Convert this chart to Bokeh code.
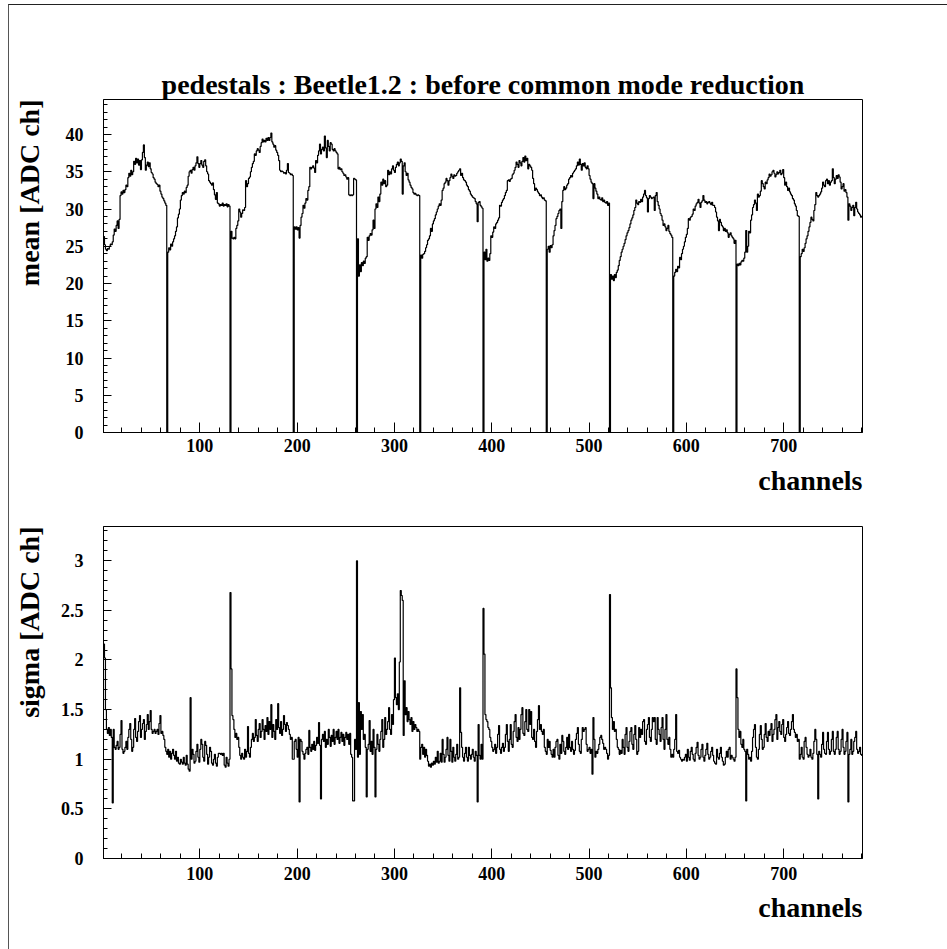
from bokeh.plotting import figure
from bokeh.layouts import column
from bokeh.models import Range1d, SingleIntervalTicker, Title, LinearAxis, FixedTicker
from bokeh.embed import file_html
from bokeh.resources import INLINE

# ---------------- data ----------------
first_channel = 1
title_text = "pedestals : Beetle1.2 : before common mode reduction"
x_title = "channels"
mean_title = "mean [ADC ch]"
sigma_title = "sigma [ADC ch]"

mean_01 = [26.3, 25.2, 24.6, 24.4, 24.7, 24.6, 25.0, 25.3, 25.2, 25.6,
           26.5, 27.3, 27.0, 27.8, 28.4, 27.4, 28.6, 31.8, 32.3, 32.0,
           32.5, 32.2, 32.6, 33.2, 33.0, 34.2, 34.8, 34.4, 35.2, 34.6,
           35.0, 36.4, 36.0, 36.8, 36.2, 36.7, 35.9, 36.5, 35.3, 36.6,
           37.6, 38.6, 36.9, 35.2, 35.9, 36.3, 35.7, 36.2, 35.4, 34.9,
           34.7, 34.2, 34.0, 33.6, 33.4, 33.3, 33.0, 33.2, 32.4, 32.0,
           31.6, 31.4, 31.1, 30.8, 30.5]
mean_02 = [0.0, 24.2, 24.8, 24.5, 25.3, 25.0, 25.6, 26.0, 26.4, 27.0,
           27.6, 28.8, 29.3, 30.0, 31.2, 31.8, 32.2, 32.0, 32.4, 32.2,
           32.9, 33.2, 34.4, 35.0, 35.2, 34.8, 35.3, 35.6, 35.2, 35.8,
           36.2, 37.0, 36.1, 35.6, 36.1, 36.5, 35.9, 35.6, 36.4, 36.6,
           35.8, 35.0, 34.7, 33.8, 33.6, 33.4, 33.2, 33.5, 32.6, 31.9,
           31.3, 32.2, 30.8, 30.7, 30.4, 30.6, 30.5, 30.8, 30.4, 30.6,
           30.5, 30.7, 30.3, 30.6, 30.4]
mean_03 = [0.0, 27.0, 26.1, 26.0, 26.2, 26.0, 27.4, 27.8, 28.4, 30.0,
           29.6, 28.9, 29.4, 29.9, 29.8, 30.2, 33.8, 33.0, 33.4, 34.1,
           34.3, 35.0, 35.6, 36.1, 36.4, 37.4, 37.2, 37.8, 38.1, 37.9,
           37.6, 38.4, 38.9, 39.4, 39.0, 39.2, 39.0, 39.5, 39.2, 39.6,
           39.2, 39.6, 40.2, 39.0, 38.7, 38.3, 38.5, 37.9, 37.6, 37.2,
           36.5, 35.2, 35.0, 35.1, 35.0, 34.8, 34.9, 34.7, 35.2, 36.1,
           34.9, 34.8, 34.6, 34.7, 34.5]
mean_04 = [0.0, 27.6, 27.3, 27.6, 27.2, 27.5, 26.1, 27.8, 28.9, 29.4,
           30.5, 30.1, 30.8, 31.4, 31.2, 32.5, 33.0, 35.6, 35.4, 35.6,
           35.8, 35.5, 34.9, 36.5, 36.2, 37.2, 37.8, 38.7, 37.4, 38.0,
           38.3, 37.8, 39.8, 38.2, 36.9, 39.2, 38.4, 37.8, 38.9, 38.7,
           38.0, 37.8, 38.1, 37.8, 37.6, 37.4, 35.4, 35.6, 35.3, 35.4,
           35.0, 34.8, 34.5, 34.6, 34.3, 34.0, 34.2, 31.9, 31.8, 31.9,
           31.8, 31.9, 34.1, 34.0, 33.9]
mean_05 = [0.0, 26.0, 21.0, 22.5, 21.6, 22.8, 22.4, 23.0, 22.7, 23.4,
           23.6, 26.2, 25.8, 26.4, 26.7, 26.5, 27.2, 28.5, 27.4, 30.0,
           30.7, 30.2, 31.6, 31.0, 32.0, 33.6, 33.2, 34.0, 33.4, 33.8,
           33.0, 33.2, 35.2, 34.6, 35.0, 34.7, 35.4, 35.8, 35.2, 34.9,
           35.6, 36.0, 36.3, 35.8, 36.2, 36.7, 36.4, 32.0, 35.8, 36.2,
           35.0, 34.5, 34.8, 33.9, 33.6, 33.2, 32.9, 32.7, 32.2, 32.0,
           32.1, 31.9, 31.8, 31.9, 31.8]
mean_06 = [0.0, 23.8, 23.4, 23.9, 24.0, 24.3, 24.8, 25.2, 25.8, 26.0,
           26.4, 27.4, 27.0, 28.0, 28.4, 28.7, 29.2, 29.6, 30.0, 30.4,
           30.7, 30.5, 31.2, 32.5, 32.8, 33.4, 33.6, 34.1, 33.8, 33.2,
           33.8, 34.2, 34.7, 34.4, 34.1, 34.6, 34.4, 34.5, 34.8, 35.0,
           35.2, 35.4, 34.5, 34.8, 34.2, 33.9, 33.8, 33.6, 33.2, 33.0,
           32.6, 32.4, 32.0, 31.8, 31.6, 31.5, 31.4, 31.0, 30.7, 28.3,
           30.9, 31.0, 30.5, 30.3, 30.1]
mean_07 = [0.0, 24.2, 23.2, 24.6, 23.0, 23.4, 23.1, 24.0, 26.4, 26.2,
           26.9, 27.6, 27.4, 28.0, 28.2, 28.5, 28.8, 30.5, 30.4, 30.9,
           31.2, 31.4, 31.8, 32.2, 32.5, 33.8, 33.9, 33.7, 34.0, 34.1,
           34.6, 34.8, 35.2, 35.6, 36.3, 36.0, 35.6, 36.5, 36.2, 35.8,
           36.4, 36.9, 36.3, 37.1, 36.5, 36.8, 35.4, 36.0, 35.8, 35.6,
           35.2, 34.1, 33.4, 32.5, 32.8, 32.6, 32.3, 32.1, 31.8, 31.9,
           31.6, 31.4, 31.5, 31.2, 31.1]
mean_08 = [0.0, 24.6, 25.0, 24.2, 25.1, 24.8, 25.2, 26.4, 27.1, 27.8,
           28.7, 29.0, 29.4, 29.8, 30.0, 27.4, 31.0, 32.5, 33.0, 32.6,
           32.8, 33.2, 33.4, 34.0, 34.2, 34.5, 34.3, 34.8, 35.0, 35.2,
           35.4, 35.8, 36.3, 35.9, 36.7, 36.0, 35.2, 36.1, 35.8, 36.2,
           35.6, 35.4, 35.8, 35.4, 34.5, 34.0, 33.6, 33.4, 31.4, 33.4,
           32.8, 32.4, 32.0, 31.4, 31.6, 31.3, 31.2, 31.5, 31.0, 31.2,
           30.9, 30.8, 31.0, 30.5, 30.8]
mean_09 = [0.0, 21.2, 20.6, 21.0, 20.4, 21.2, 20.8, 21.5, 21.8, 22.4,
           23.1, 23.6, 24.2, 24.6, 25.0, 25.4, 25.9, 26.4, 26.8, 27.1,
           27.5, 28.0, 28.5, 28.8, 29.2, 29.8, 30.2, 31.2, 30.8, 30.6,
           31.0, 30.9, 31.3, 31.0, 31.6, 32.0, 32.5, 31.8, 31.5, 29.6,
           31.4, 31.8, 31.6, 31.4, 31.5, 31.6, 29.8, 31.8, 32.2, 31.0,
           30.5, 30.0, 29.4, 29.1, 28.5, 27.8, 28.0, 27.6, 27.1, 27.4,
           27.8, 27.0, 26.7, 26.5, 26.2]
mean_10 = [0.0, 21.0, 21.5, 21.9, 21.6, 22.3, 22.1, 23.5, 23.2, 24.0,
           24.6, 25.0, 25.6, 26.2, 26.6, 27.4, 28.7, 28.5, 28.9, 29.0,
           29.3, 30.0, 29.8, 30.4, 30.7, 30.9, 31.3, 30.8, 30.2, 30.9,
           31.1, 31.8, 31.2, 30.9, 31.0, 30.7, 30.9, 31.0, 30.8, 30.6,
           30.9, 30.5, 30.5, 30.2, 29.6, 28.9, 28.4, 27.1, 28.6, 28.2,
           27.8, 27.6, 27.1, 27.4, 27.0, 27.2, 26.8, 26.2, 26.6, 26.8,
           26.4, 26.2, 26.0, 25.4, 25.8]
mean_11 = [0.0, 22.6, 22.4, 22.7, 22.5, 22.9, 23.1, 23.0, 23.4, 24.2,
           27.1, 24.2, 25.0, 27.0, 26.8, 28.5, 29.2, 30.2, 30.6, 31.2,
           30.8, 29.8, 32.0, 31.6, 31.8, 32.4, 33.8, 33.4, 33.0, 32.7,
           33.6, 33.4, 33.9, 34.2, 34.7, 34.4, 34.6, 35.0, 35.2, 34.8,
           34.3, 34.6, 35.0, 34.7, 34.9, 35.2, 34.6, 34.8, 35.3, 34.2,
           33.2, 33.6, 33.0, 32.5, 32.8, 32.3, 32.0, 31.8, 31.4, 31.2,
           30.7, 30.4, 29.8, 29.1, 29.0]
mean_12 = [0.0, 23.6, 24.0, 24.6, 24.3, 24.8, 25.4, 26.0, 26.4, 27.0,
           27.6, 28.2, 28.9, 28.6, 28.4, 29.8, 30.6, 32.2, 31.8, 31.6,
           31.8, 32.0, 32.3, 32.8, 33.6, 33.2, 33.0, 33.8, 34.0, 33.4,
           33.8, 33.2, 33.6, 33.8, 35.4, 34.2, 33.4, 34.0, 34.5, 34.1,
           34.6, 34.3, 33.6, 32.7, 33.0, 33.4, 32.4, 32.6, 32.2, 31.6,
           28.5, 30.7, 30.4, 29.8, 30.2, 30.5, 29.1, 30.2, 30.9, 30.0,
           29.6, 29.4, 29.2, 28.9, 29.0]

sigma_01 = [2.16, 2.02, 1.50, 1.30, 1.26, 1.32, 1.24, 1.30, 1.22, 0.56,
            1.30, 1.12, 1.10, 1.14, 1.18, 1.10, 1.12, 1.25, 1.39, 1.10,
            1.06, 1.08, 1.12, 1.18, 1.10, 1.22, 1.30, 1.36, 1.20, 1.08,
            1.12, 1.30, 1.41, 1.22, 1.18, 1.28, 1.38, 1.44, 1.22, 1.30,
            1.36, 1.40, 1.20, 1.28, 1.35, 1.45, 1.30, 1.38, 1.49, 1.30,
            1.26, 1.28, 1.30, 1.26, 1.28, 1.30, 1.25, 1.36, 1.44, 1.26,
            1.28, 1.24, 1.20, 1.12, 1.08]
sigma_02 = [1.05, 1.10, 1.02, 1.08, 1.00, 1.06, 1.10, 1.04, 1.00, 1.08,
            0.98, 1.02, 0.96, 0.95, 1.00, 0.97, 0.95, 1.02, 0.96, 0.94,
            1.04, 0.95, 0.90, 0.88, 1.62, 1.00, 1.10, 1.05, 0.96, 0.98,
            1.08, 1.15, 1.02, 0.97, 1.10, 1.20, 1.15, 1.02, 0.98, 1.18,
            1.14, 1.05, 0.95, 1.02, 1.12, 1.08, 0.96, 0.94, 1.00, 1.05,
            0.96, 0.93, 1.02, 1.06, 1.06, 1.05, 1.06, 1.04, 1.06, 0.94,
            0.92, 1.02, 0.96, 0.93, 1.00]
sigma_03 = [2.68, 1.91, 1.44, 1.40, 1.30, 1.22, 1.26, 1.20, 1.22, 1.12,
            1.04, 1.00, 1.06, 1.02, 1.00, 1.10, 1.02, 1.08, 1.33, 1.06,
            1.02, 1.12, 1.20, 1.26, 1.18, 1.22, 1.40, 1.24, 1.18, 1.30,
            1.36, 1.22, 1.28, 1.40, 1.30, 1.20, 1.34, 1.28, 1.42, 1.25,
            1.38, 1.30, 1.55, 1.22, 1.35, 1.28, 1.20, 1.40, 1.30, 1.56,
            1.32, 1.26, 1.38, 1.24, 1.30, 1.44, 1.35, 1.28, 1.37, 1.34,
            1.30, 1.25, 1.20, 1.22, 1.00]
sigma_04 = [1.00, 1.18, 1.20, 1.10, 1.02, 1.22, 0.57, 1.20, 1.18, 1.08,
            1.05, 1.00, 1.06, 1.10, 1.12, 1.05, 1.29, 1.12, 1.08, 1.15,
            1.10, 1.18, 1.09, 1.14, 1.22, 1.16, 1.37, 1.14, 0.60, 1.20,
            1.25, 1.18, 1.28, 1.12, 1.20, 1.15, 1.30, 1.22, 1.13, 1.24,
            1.18, 1.30, 1.15, 1.22, 1.28, 1.20, 1.30, 1.16, 1.22, 1.27,
            1.18, 1.25, 1.14, 1.22, 1.27, 1.20, 1.25, 1.15, 1.26, 1.05,
            1.02, 0.58, 0.58, 1.20, 1.10]
sigma_05 = [3.00, 1.02, 1.57, 1.05, 1.48, 1.30, 1.45, 1.20, 1.25, 1.12,
            0.62, 1.10, 1.15, 1.39, 1.08, 1.18, 1.05, 1.30, 1.12, 0.62,
            1.10, 1.25, 1.15, 1.08, 1.20, 1.28, 1.40, 1.12, 1.20, 1.42,
            1.25, 1.30, 1.38, 1.52, 1.30, 1.25, 1.45, 1.35, 1.60, 2.02,
            1.62, 1.55, 1.66, 1.50, 1.98, 2.70, 2.65, 2.60, 1.24, 1.79,
            1.45, 1.52, 1.38, 1.48, 1.40, 1.35, 1.42, 1.28, 1.38, 1.30,
            1.35, 1.32, 1.28, 1.30, 1.28]
sigma_06 = [1.00, 1.12, 1.15, 1.05, 1.12, 1.02, 1.10, 1.04, 0.98, 0.93,
            0.95, 0.92, 0.96, 0.94, 0.98, 0.95, 1.02, 0.97, 1.08, 0.96,
            0.98, 1.06, 0.97, 1.20, 1.05, 0.97, 1.02, 1.10, 1.22, 1.04,
            0.98, 1.20, 1.08, 0.97, 1.12, 1.02, 0.98, 1.05, 1.15, 1.00,
            1.02, 1.72, 1.27, 1.12, 1.02, 0.98, 1.06, 1.12, 1.02, 0.98,
            1.12, 1.04, 1.00, 1.05, 1.10, 1.02, 0.98, 1.08, 1.04, 0.57,
            1.35, 1.04, 1.00, 1.15, 1.00]
sigma_07 = [2.52, 2.06, 1.45, 1.40, 1.38, 1.32, 1.30, 1.22, 1.18, 1.12,
            1.08, 1.10, 1.15, 1.06, 1.12, 1.25, 1.34, 1.10, 1.06, 1.12,
            1.16, 1.08, 1.12, 1.25, 1.35, 1.18, 1.08, 1.20, 1.35, 1.15,
            1.12, 1.28, 1.38, 1.45, 1.22, 1.18, 1.32, 1.20, 1.30, 1.45,
            1.52, 1.26, 1.24, 1.38, 1.50, 1.30, 1.28, 1.50, 1.35, 1.48,
            1.22, 1.20, 1.30, 1.18, 1.12, 1.28, 1.40, 1.54, 1.30, 1.35,
            1.28, 1.25, 1.30, 1.12, 1.08]
sigma_08 = [1.05, 1.20, 1.12, 1.18, 1.09, 1.05, 1.02, 1.10, 1.02, 1.12,
            1.18, 1.20, 1.04, 1.00, 1.15, 1.06, 1.24, 1.18, 1.08, 1.05,
            1.12, 1.22, 1.10, 1.25, 1.12, 1.08, 1.18, 1.10, 1.05, 1.09,
            1.20, 1.26, 1.32, 1.15, 1.08, 1.06, 1.20, 1.32, 1.28, 1.30,
            1.32, 1.15, 1.08, 1.10, 1.12, 1.06, 1.10, 0.85, 1.42, 1.20,
            1.02, 1.08, 1.06, 1.10, 1.15, 1.22, 1.24, 1.20, 1.16, 1.10,
            1.12, 1.10, 1.06, 1.00, 1.04]
sigma_09 = [2.66, 1.72, 1.42, 1.30, 1.38, 1.28, 1.30, 1.20, 1.12, 1.10,
            1.05, 1.09, 1.06, 1.20, 1.12, 1.05, 1.25, 1.32, 1.12, 1.08,
            1.18, 1.28, 1.32, 1.15, 1.10, 1.25, 1.34, 1.20, 1.05, 1.08,
            1.32, 1.22, 1.30, 1.25, 1.38, 1.40, 1.18, 1.15, 1.30, 1.35,
            1.42, 1.22, 1.18, 1.30, 1.42, 1.38, 1.42, 1.20, 1.15, 1.42,
            1.30, 1.25, 1.18, 1.32, 1.42, 1.20, 1.10, 1.30, 1.45, 1.20,
            1.15, 1.22, 1.10, 1.02, 1.05]
sigma_10 = [1.02, 1.10, 1.20, 1.45, 1.08, 1.06, 1.09, 1.02, 1.00, 0.98,
            1.00, 0.99, 1.02, 1.05, 0.98, 1.10, 1.02, 0.99, 1.08, 1.12,
            1.05, 1.00, 0.98, 1.06, 1.12, 1.17, 1.04, 1.00, 1.02, 1.10,
            1.15, 1.02, 0.98, 1.04, 1.10, 1.16, 1.05, 1.00, 1.02, 1.08,
            1.12, 1.04, 0.98, 0.96, 0.95, 1.10, 1.02, 1.00, 1.06, 1.12,
            1.02, 0.98, 0.94, 0.95, 1.02, 1.08, 1.02, 1.10, 1.12, 1.00,
            1.04, 1.02, 1.00, 0.98, 1.02]
sigma_11 = [1.91, 1.62, 1.30, 1.22, 1.28, 1.15, 1.12, 1.20, 1.10, 1.08,
            0.58, 1.10, 1.05, 1.00, 1.02, 0.98, 1.08, 1.22, 1.30, 1.35,
            1.12, 1.02, 1.00, 1.10, 1.25, 1.34, 1.20, 1.10, 1.12, 1.25,
            1.36, 1.22, 1.18, 1.28, 1.24, 1.30, 1.36, 1.18, 1.25, 1.30,
            1.40, 1.45, 1.20, 1.32, 1.38, 1.28, 1.25, 1.35, 1.40, 1.22,
            1.18, 1.25, 1.32, 1.38, 1.26, 1.24, 1.30, 1.38, 1.45, 1.30,
            1.27, 1.22, 1.25, 1.18, 1.20]
sigma_12 = [1.00, 1.05, 1.12, 1.02, 1.00, 1.18, 1.22, 1.12, 1.05, 1.02,
            1.04, 1.10, 1.02, 1.00, 1.06, 1.18, 1.30, 1.20, 1.05, 0.60,
            1.08, 1.05, 1.02, 1.15, 1.27, 1.10, 1.06, 1.05, 1.18, 1.27,
            1.10, 1.05, 1.08, 1.20, 1.28, 1.08, 1.05, 1.10, 1.22, 1.28,
            1.10, 1.05, 1.08, 1.20, 1.30, 1.12, 1.05, 1.08, 1.18, 1.27,
            0.57, 1.05, 1.10, 1.20, 1.05, 1.08, 1.18, 1.22, 1.28, 1.10,
            1.06, 1.08, 1.12, 1.05, 1.04]

mean_adc = (mean_01 + mean_02 + mean_03 + mean_04 + mean_05 + mean_06 +
            mean_07 + mean_08 + mean_09 + mean_10 + mean_11 + mean_12)
sigma_adc = (sigma_01 + sigma_02 + sigma_03 + sigma_04 + sigma_05 + sigma_06 +
             sigma_07 + sigma_08 + sigma_09 + sigma_10 + sigma_11 + sigma_12)

# ---------------- styling ----------------
FONT = "Liberation Serif"
TITLE_PX = "28px"
FIG_W = 938
FRAME_W = 759
LEFT = 94
RIGHT = FIG_W - LEFT - FRAME_W


def hist_xy(values):
    n = len(values)
    xs = [first_channel + i for i in range(n + 1)]
    ys = list(values) + [values[-1]]
    return xs, ys


def big_title(text, align, standoff, offset=0):
    return Title(text=text, align=align, standoff=standoff, offset=offset,
                 text_font=FONT, text_font_style="bold",
                 text_font_size=TITLE_PX, text_color="black")


def spacer_axis(p, side, gap):
    # an invisible axis (one white tick, empty label) that only reserves
    # `gap` pixels between the tick labels and the axis title
    ax = LinearAxis(ticker=FixedTicker(ticks=[0]),
                    axis_line_color=None,
                    major_tick_line_color="white",
                    minor_tick_line_color=None,
                    major_tick_in=0, major_tick_out=gap,
                    minor_tick_in=0, minor_tick_out=0,
                    major_label_standoff=0,
                    major_label_overrides={0: ""},
                    major_label_text_color="white")
    p.add_layout(ax, side)


def make_panel(values, y_max, height, top, frame_h, y_interval,
               label_standoff_x, xlab, ylab, xlab_standoff, ylab_gap,
               overrides=None):
    n = len(values)
    x_lo, x_hi = first_channel, first_channel + n
    p = figure(width=FIG_W, height=height, output_backend="svg",
               toolbar_location=None,
               x_range=Range1d(x_lo, x_hi), y_range=Range1d(0, y_max),
               min_border_left=LEFT, min_border_right=RIGHT,
               min_border_top=top, min_border_bottom=height - top - frame_h)
    p.grid.visible = False
    p.background_fill_color = "white"
    p.border_fill_color = "white"
    p.outline_line_color = "black"
    p.outline_line_width = 1
    p.outline_line_alpha = 1.0

    xs, ys = hist_xy(values)
    p.step(xs, ys, mode="after", line_color="black", line_width=1.2)

    p.xaxis.ticker = SingleIntervalTicker(interval=100, num_minor_ticks=5)
    p.yaxis.ticker = SingleIntervalTicker(interval=y_interval, num_minor_ticks=5)
    for ax in (p.xaxis, p.yaxis):
        ax.axis_line_color = "black"
        ax.major_tick_line_color = "black"
        ax.minor_tick_line_color = "black"
        ax.major_tick_out = 0
        ax.minor_tick_out = 0
        ax.major_label_text_font = FONT
        ax.major_label_text_font_style = "bold"
        ax.major_label_text_font_size = "18px"
        ax.major_label_text_color = "black"
    p.xaxis.major_tick_in = 10
    p.xaxis.minor_tick_in = 5
    p.yaxis.major_tick_in = 8
    p.yaxis.minor_tick_in = 4
    p.xaxis.major_label_standoff = label_standoff_x
    p.yaxis.major_label_standoff = 20
    if overrides:
        p.yaxis.major_label_overrides = overrides

    # ROOT-style axis titles, aligned to the far end of each axis
    p.add_layout(big_title(xlab, "right", xlab_standoff), "below")
    spacer_axis(p, "left", ylab_gap)
    p.add_layout(big_title(ylab, "right", 2), "left")
    return p


# top panel: mean (figure spans y 5..520 inside the bordered column)
p1 = make_panel(mean_adc, 44.7, 515, 94, 333, 5, 6,
                x_title, mean_title, 17, 17)
p1.title = big_title(title_text, "center", 0)

# bottom panel: sigma (figure spans y 520..949)
p2 = make_panel(sigma_adc, 3.345, 429, 6, 332, 0.5, 8,
                x_title, sigma_title, 15, 12,
                overrides={0: "0", 1: "1", 2: "2", 3: "3"})

layout = column(p1, p2, margin=(4, 0, 0, 8),
                styles={"border-left": "1px solid #555555",
                        "border-top": "1px solid #222222"})

open("out.html", "w").write(file_html(layout, INLINE))
